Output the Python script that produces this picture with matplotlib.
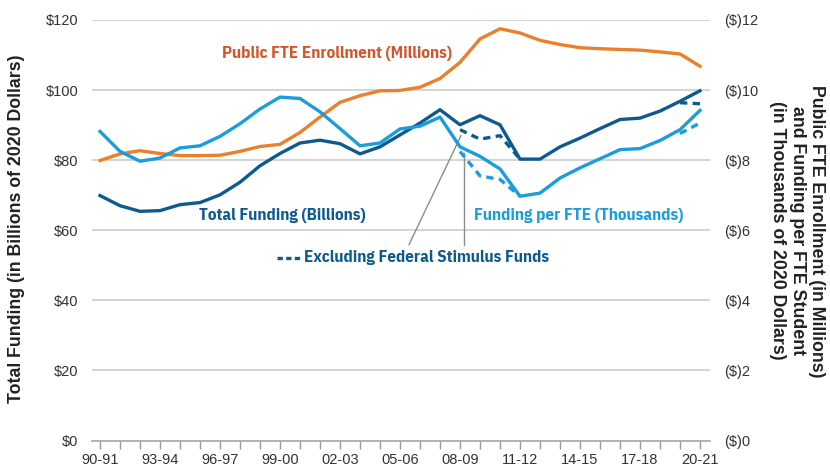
import matplotlib
matplotlib.use("Agg")
import matplotlib.pyplot as plt
import numpy as np
from matplotlib.ticker import MultipleLocator, FixedLocator
from matplotlib import font_manager as fm
from matplotlib.textpath import TextPath

years = ["90-91", "91-92", "92-93", "93-94", "94-95", "95-96", "96-97", "97-98", "98-99", "99-00",
         "00-01", "01-02", "02-03", "03-04", "04-05", "05-06", "06-07", "07-08", "08-09", "09-10",
         "10-11", "11-12", "12-13", "13-14", "14-15", "15-16", "16-17", "17-18", "18-19", "19-20", "20-21"]

total_funding = [69.9, 67.0, 65.4, 65.6, 67.3, 67.9, 70.1, 73.7, 78.4, 81.9,
                 84.9, 85.7, 84.7, 81.8, 83.8, 87.2, 90.6, 94.4, 90.1, 92.7,
                 90.1, 80.3, 80.3, 83.8, 86.3, 89.0, 91.6, 92.0, 94.0, 96.8, 99.8]
total_excl_idx_a = [18, 19, 20, 21]
total_excl_a = [88.7, 86.0, 87.0, 80.3]
total_excl_idx_b = [29, 30]
total_excl_b = [96.4, 96.1]

per_fte = [8.82, 8.25, 7.97, 8.06, 8.35, 8.41, 8.68, 9.04, 9.46, 9.80,
           9.76, 9.38, 8.90, 8.41, 8.49, 8.89, 8.97, 9.23, 8.38, 8.11,
           7.75, 6.97, 7.06, 7.49, 7.78, 8.04, 8.30, 8.33, 8.56, 8.87, 9.42]
per_fte_excl_idx_a = [18, 19, 20, 21]
per_fte_excl_a = [8.25, 7.55, 7.45, 6.97]
per_fte_excl_idx_b = [29, 30]
per_fte_excl_b = [8.76, 9.06]

enrollment = [7.99, 8.18, 8.27, 8.19, 8.13, 8.13, 8.14, 8.25, 8.39, 8.45,
              8.79, 9.23, 9.65, 9.84, 9.98, 9.99, 10.08, 10.33, 10.79, 11.46,
              11.75, 11.63, 11.42, 11.30, 11.21, 11.18, 11.16, 11.14, 11.09, 11.03, 10.68]

left_ticks = [0, 20, 40, 60, 80, 100, 120]
left_labels = ["$0", "$20", "$40", "$60", "$80", "$100", "$120"]
right_ticks = [0, 2, 4, 6, 8, 10, 12]
right_labels = ["($)0", "($)2", "($)4", "($)6", "($)8", "($)10", "($)12"]

DARK = "#0d5a8e"
LIGHT = "#1b9ddb"
ORANGE = "#ea7f2c"
ORANGE_TXT = "#d5552a"
GRID = "#c9c9c9"
TICKTXT = "#333333"

plt.rcParams["font.family"] = ["Liberation Sans", "DejaVu Sans"]

# choose a condensed bold face whose proportions best match the reference labels
SAMPLE = "Public FTE Enrollment (Millions)"
TARGET_W_PX = 229.0
TARGET_SIZE = 12.2
best = None
for f in sorted(fm.findSystemFonts()):
    n = f.lower().split("/")[-1]
    if not ("condensed" in n or "narrow" in n):
        continue
    if "bold" not in n or any(k in n for k in ("semibold", "extrabold", "italic", "oblique", "mono", "light")):
        continue
    try:
        prop = fm.FontProperties(fname=f, size=10)
        w = TextPath((0, 0), SAMPLE, prop=prop).get_extents().width * 100 / 72
    except Exception:
        continue
    if w <= 0:
        continue
    size = 10 * TARGET_W_PX / w
    score = abs(size - TARGET_SIZE)
    if best is None or score < best[0]:
        best = (score, f, size)
if best:
    COND = dict(fontproperties=fm.FontProperties(fname=best[1], size=best[2]))
else:
    COND = dict(family=["Liberation Sans", "DejaVu Sans"], fontweight="bold", fontsize=11.2)

fig = plt.figure(figsize=(8.3, 4.71), dpi=100)
ax = fig.add_axes([92/830, 30.5/471, 618/830, 420.5/471])
ax2 = ax.twinx()

x = np.arange(len(years))

ax.set_ylim(0, 120)
ax2.set_ylim(0, 12)
ax.set_xlim(-0.4, 30.5)

ax.set_yticks(left_ticks)
ax.set_yticklabels(left_labels)
ax2.set_yticks(right_ticks)
ax2.set_yticklabels(right_labels)

ax.yaxis.grid(True, color=GRID, linewidth=1.1)
ax.set_axisbelow(True)
for a in (ax, ax2):
    for s in ("top", "right", "left", "bottom"):
        a.spines[s].set_visible(False)
ax.tick_params(axis="y", length=0, labelsize=10.5, labelcolor=TICKTXT, pad=10)
ax2.tick_params(axis="y", length=0, labelsize=10.5, labelcolor=TICKTXT, pad=10)

ax.xaxis.set_major_locator(FixedLocator(list(range(0, 31, 3))))
ax.set_xticklabels(years[::3])
ax.xaxis.set_minor_locator(MultipleLocator(1))
ax.tick_params(axis="x", which="both", length=6, color="#999999", width=1,
               labelsize=10.5, labelcolor=TICKTXT, pad=3)

ax.plot(x, total_funding, color=DARK, lw=2.4, zorder=4)
ax.plot(total_excl_idx_a, total_excl_a, color=DARK, lw=2.4, ls=(0, (2.2, 1.6)), zorder=4)
ax.plot(total_excl_idx_b, total_excl_b, color=DARK, lw=2.4, ls=(0, (2.2, 1.6)), zorder=4)
ax2.plot(x, per_fte, color=LIGHT, lw=2.4, zorder=3)
ax2.plot(per_fte_excl_idx_a, per_fte_excl_a, color=LIGHT, lw=2.4, ls=(0, (2.2, 1.6)), zorder=3)
ax2.plot(per_fte_excl_idx_b, per_fte_excl_b, color=LIGHT, lw=2.4, ls=(0, (2.2, 1.6)), zorder=3)
ax2.plot(x, enrollment, color=ORANGE, lw=2.4, zorder=2)

ax.axhline(0, color="#aaaaaa", lw=1.2, zorder=1, clip_on=False)

ax.text(6.1, 110.4, "Public FTE Enrollment (Millions)", color=ORANGE_TXT,
        ha="left", va="center", **COND)
ax.text(4.95, 64.3, "Total Funding (Billions)", color=DARK, ha="left", va="center", **COND)
ax.text(18.7, 64.3, "Funding per FTE (Thousands)", color=LIGHT, ha="left", va="center", **COND)
ax.text(10.2, 52.1, "Excluding Federal Stimulus Funds", color=DARK, ha="left", va="center", **COND)
ax.plot([8.85, 10.0], [52.1, 52.1], color=DARK, lw=2.4, ls=(0, (1.6, 1.0)), clip_on=False)
ax.plot([15.45, 18.05], [55.9, 87.0], color="#8c8c8c", lw=1.0, zorder=2)
ax2.plot([18.2, 18.2], [5.59, 8.21], color="#8c8c8c", lw=1.0, zorder=2)

fig.text(17/830, 0.515, "Total Funding (in Billions of 2020 Dollars)", rotation=90,
         fontsize=12.8, fontweight="bold", ha="center", va="center", color="#222222")
fig.text(797/830, 0.51, "Public FTE Enrollment (in Millions)\nand Funding per FTE Student\n(in Thousands of 2020 Dollars)",
         rotation=-90, fontsize=12.8, fontweight="bold", ha="center", va="center",
         color="#222222", multialignment="center", linespacing=1.2)

fig.savefig("out.png", dpi=100)
